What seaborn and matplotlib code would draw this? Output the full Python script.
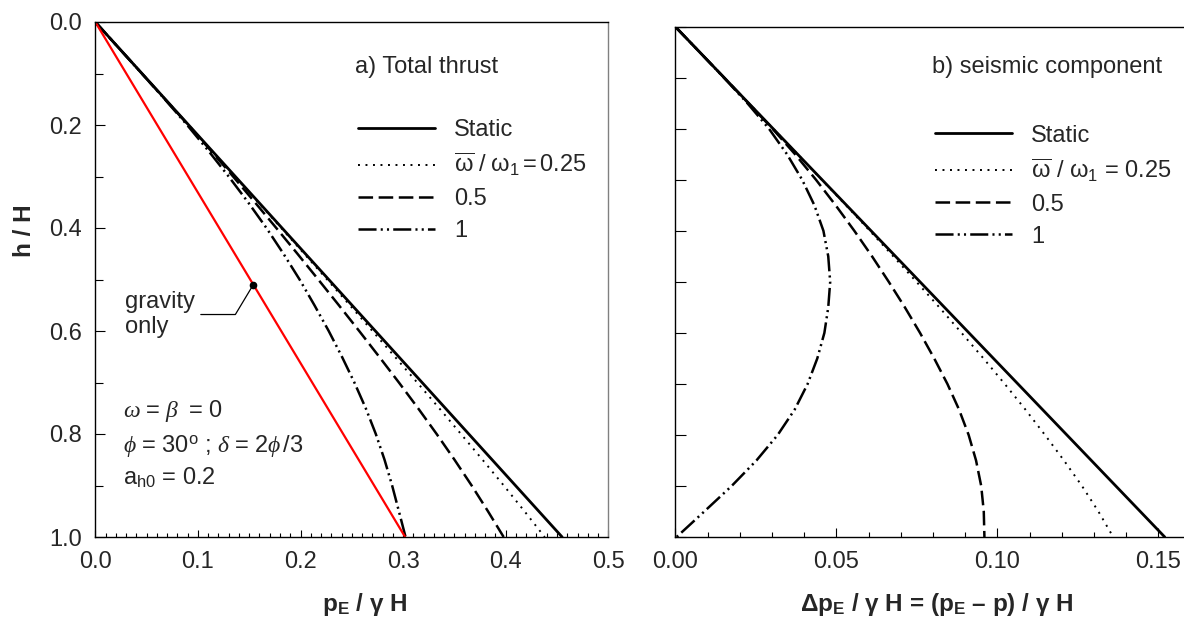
import numpy as np
import pandas as pd
import matplotlib
matplotlib.use("Agg")
import matplotlib.pyplot as plt
import seaborn as sns
from matplotlib.ticker import MultipleLocator, FormatStrFormatter

# ---------------------------------------------------------------------------
# Data: normalised depth h/H and earth pressures (divided by gamma*H)
# ---------------------------------------------------------------------------
depth = [0.00, 0.05, 0.10, 0.15, 0.20, 0.25, 0.30, 0.35, 0.40, 0.45, 0.50,
         0.55, 0.60, 0.65, 0.70, 0.75, 0.80, 0.85, 0.90, 0.95, 1.00]
line_depth = [0.0, 1.0]

# a) total thrust p_E / gamma H
total_static = [0.0, 0.455]
gravity_only = [0.0, 0.302]
total_w025 = [0.0, 0.0227, 0.0454, 0.0681, 0.0908, 0.1135, 0.1361, 0.1587,
              0.1812, 0.2036, 0.2259, 0.2481, 0.2701, 0.2920, 0.3137, 0.3352,
              0.3564, 0.3774, 0.3981, 0.4183, 0.4380]
total_w05 = [0.0, 0.0227, 0.0454, 0.0680, 0.0906, 0.1127, 0.1343, 0.1555,
             0.1764, 0.1970, 0.2173, 0.2374, 0.2572, 0.2767, 0.2959, 0.3146,
             0.3327, 0.3501, 0.3668, 0.3827, 0.3980]
total_w1 = [0.0, 0.0227, 0.0453, 0.0677, 0.0895, 0.1102, 0.1300, 0.1489,
            0.1668, 0.1834, 0.1991, 0.2136, 0.2275, 0.2404, 0.2525, 0.2636,
            0.2734, 0.2819, 0.2893, 0.2959, 0.3024]

# b) seismic component (p_E - p) / gamma H
seismic_static = [0.0, 0.152]
seismic_w025 = [0.0, 0.0076, 0.0152, 0.0228, 0.0304, 0.0380, 0.0455, 0.0530,
                0.0604, 0.0677, 0.0749, 0.0820, 0.0889, 0.0957, 0.1023, 0.1087,
                0.1148, 0.1207, 0.1263, 0.1314, 0.1360]
seismic_w05 = [0.0, 0.0076, 0.0152, 0.0227, 0.0302, 0.0372, 0.0437, 0.0498,
               0.0556, 0.0611, 0.0663, 0.0713, 0.0760, 0.0804, 0.0845, 0.0881,
               0.0911, 0.0934, 0.0950, 0.0958, 0.0960]
seismic_w1 = [0.0, 0.0076, 0.0151, 0.0224, 0.0291, 0.0347, 0.0394, 0.0432,
              0.0460, 0.0475, 0.0481, 0.0475, 0.0463, 0.0441, 0.0411, 0.0371,
              0.0318, 0.0252, 0.0175, 0.0090, 0.0004]

# point on the gravity-only line marked by the label
gravity_mark = (0.154, 0.51)

series_labels = ["Static", "0.25", "0.5", "1"]
legend_labels_a = ["Static",
                   r"$\overline{\mathrm{\omega}}\ /\ \mathrm{\omega}_1 = 0.25$",
                   "0.5", "1"]
legend_labels_b = ["Static",
                   r"$\overline{\mathrm{\omega}}$ / $\mathrm{\omega}_1$ = 0.25",
                   "0.5", "1"]

# ---------------------------------------------------------------------------
# Style
# ---------------------------------------------------------------------------
sns.set_theme(style="ticks")
plt.rcParams["font.family"] = ["Liberation Sans", "DejaVu Sans"]
plt.rcParams["font.size"] = 17
plt.rcParams["mathtext.fontset"] = "custom"
plt.rcParams["mathtext.rm"] = "Liberation Sans"
plt.rcParams["mathtext.it"] = "Liberation Serif:italic"
plt.rcParams["mathtext.bf"] = "Liberation Sans:bold"
plt.rcParams["mathtext.sf"] = "Liberation Sans"
plt.rcParams["lines.scale_dashes"] = False
plt.rcParams["axes.linewidth"] = 1.0
plt.rcParams["axes.edgecolor"] = "black"

styles = {
    "Static": dict(color="black", lw=2.0, ls="-"),
    "0.25": dict(color="black", lw=1.4, ls=(0, (1.4, 4.0))),
    "0.5": dict(color="black", lw=1.8, ls=(0, (10.5, 4.0))),
    "1": dict(color="black", lw=1.8, ls=(0, (13, 3, 1.5, 3, 1.5, 3))),
}

W, H = 1184, 619
fig = plt.figure(figsize=(W / 100, H / 100), dpi=100)
ax1 = fig.add_axes([95.3 / W, 1 - 537 / H, 513 / W, 515 / H])
ax2 = fig.add_axes([675.3 / W, 1 - 537 / H, 515.2 / W, 510.3 / H])


def draw(ax, xs_list, ys_list):
    handles = []
    for name, xs, ys in zip(series_labels, xs_list, ys_list):
        df = pd.DataFrame({"p": xs, "h": ys})
        sns.lineplot(data=df, x="p", y="h", sort=False, estimator=None,
                     ax=ax, label=name, **styles[name])
        handles.append(ax.get_lines()[-1])
    return handles


# ---- a) total thrust ------------------------------------------------------
handles_a = draw(ax1,
                 [total_static, total_w025, total_w05, total_w1],
                 [line_depth, depth, depth, depth])
sns.lineplot(x=gravity_only, y=line_depth, sort=False, estimator=None,
             ax=ax1, color="#ff0000", lw=1.6, legend=False)
ax1.plot([gravity_mark[0]], [gravity_mark[1]], "o", color="black", ms=4.5)
ax1.annotate("gravity\nonly", xy=gravity_mark, xytext=(0.0287, 0.568),
             textcoords="data", ha="left", va="center", fontsize=17,
             linespacing=1.2,
             arrowprops=dict(arrowstyle="-", color="black", lw=0.9,
                             shrinkB=0,
                             connectionstyle="angle,angleA=0,angleB=59,rad=0"))

ax1.set_xlim(0, 0.5)
ax1.set_ylim(1, 0)
ax1.xaxis.set_major_locator(MultipleLocator(0.1))
ax1.xaxis.set_minor_locator(MultipleLocator(0.01))
ax1.yaxis.set_major_locator(MultipleLocator(0.2))
ax1.yaxis.set_minor_locator(MultipleLocator(0.1))
ax1.xaxis.set_major_formatter(FormatStrFormatter("%.1f"))
ax1.yaxis.set_major_formatter(FormatStrFormatter("%.1f"))
ax1.tick_params(which="both", direction="in", top=False, right=False,
                width=0.8, color="black", labelsize=17)
ax1.tick_params(axis="x", which="major", length=4.8, pad=10.4)
ax1.tick_params(axis="x", which="minor", length=2.8)
ax1.tick_params(axis="y", which="major", length=7.2, pad=9.4)
ax1.tick_params(axis="y", which="minor", length=5.5)
ax1.spines["right"].set_color("#808080")

ax1.set_xlabel(r"$\mathbf{p_E}$ / γ H", fontweight="bold", fontsize=17.5,
               va="baseline")
ax1.xaxis.set_label_coords(0.526, -0.1437)
ax1.set_ylabel("h / H", fontweight="bold", fontsize=17.5, va="center")
ax1.yaxis.set_label_coords(-0.138, 0.595)

ax1.text(0.506, 0.9126, "a) Total thrust", transform=ax1.transAxes,
         ha="left", va="center", fontsize=17)
ax1.text(0.027, 0.767, r"$\omega\,=\,\beta\;\,=\,0$", ha="left",
         va="baseline", fontsize=17)
ax1.text(0.027, 0.834,
         r"$\phi\,=\,30^{\mathrm{o}}$ ; $\delta\,=\,2\phi\,/3$",
         ha="left", va="baseline", fontsize=17)
ax1.text(0.027, 0.899, r"a$_{\mathrm{h0}}$ = 0.2", ha="left",
         va="baseline", fontsize=17)

ax1.legend(handles_a, legend_labels_a, loc="upper left",
           bbox_to_anchor=(0.512, 0.8115), frameon=False, borderpad=0,
           borderaxespad=0, handlelength=3.26, handletextpad=0.8,
           labelspacing=0.42, fontsize=17)

# ---- b) seismic component -------------------------------------------------
handles_b = draw(ax2,
                 [seismic_static, seismic_w025, seismic_w05, seismic_w1],
                 [line_depth, depth, depth, depth])
ax2.set_xlim(0, 0.16)
ax2.set_ylim(1, 0)
ax2.xaxis.set_major_locator(MultipleLocator(0.05))
ax2.xaxis.set_minor_locator(MultipleLocator(0.01))
ax2.yaxis.set_major_locator(MultipleLocator(0.1))
ax2.xaxis.set_major_formatter(FormatStrFormatter("%.2f"))
ax2.tick_params(which="both", direction="in", top=False, right=False,
                width=0.8, color="black", labelsize=17)
ax2.tick_params(axis="x", which="major", length=6.2, pad=10.4)
ax2.tick_params(axis="x", which="minor", length=3.6)
ax2.tick_params(axis="y", which="major", length=7.7, labelleft=False)

ax2.set_xlabel(r"Δ$\mathbf{p_E}$ / γ H = ($\mathbf{p_E}$ – p) / γ H",
               fontweight="bold", fontsize=17.5, va="baseline")
ax2.xaxis.set_label_coords(0.507, -0.1450)
ax2.set_ylabel("")

ax2.text(0.498, 0.921, "b) seismic component", transform=ax2.transAxes,
         ha="left", va="center", fontsize=17)
ax2.legend(handles_b, legend_labels_b, loc="upper left",
           bbox_to_anchor=(0.504, 0.808), frameon=False, borderpad=0,
           borderaxespad=0, handlelength=3.26, handletextpad=0.8,
           labelspacing=0.42, fontsize=17)

fig.savefig("out.png", dpi=100)
